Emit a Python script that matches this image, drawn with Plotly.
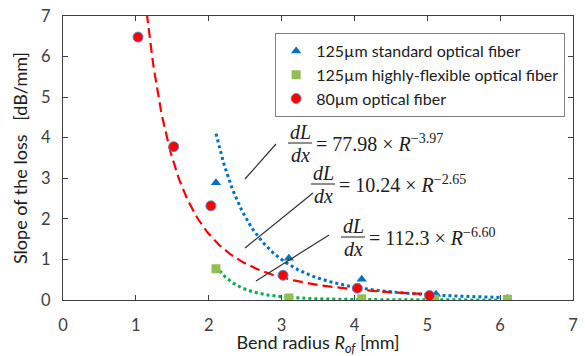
import numpy as np
import plotly.graph_objects as go

# ---- data ----
x_std = [2.1, 3.1, 4.1, 5.12, 6.1]
y_std = [2.89, 1.03, 0.51, 0.14, 0.04]
x_flex = [2.1, 3.1, 4.1, 5.1, 6.1]
y_flex = [0.77, 0.05, 0.03, 0.02, 0.02]
x_80 = [1.03, 1.52, 2.03, 3.02, 4.04, 5.03]
y_80 = [6.48, 3.78, 2.32, 0.61, 0.29, 0.11]

fit_coef = [77.98, 112.3, 10.24]
fit_exp = [-3.97, -6.60, -2.65]
fit_range = [(2.1, 6.0), (2.1, 6.0), (1.15, 5.05)]

names = ["125µm standard optical fiber", "125µm highly-flexible optical fiber", "80µm optical fiber"]
x_ticks = [0, 1, 2, 3, 4, 5, 6, 7]
y_ticks = [0, 1, 2, 3, 4, 5, 6, 7]

# ---- layout geometry (window pixels) ----
W, H = 585, 356
PL, PR, PT, PB = 63, 573, 16, 300   # plot area in window pixels
pw, ph = PR - PL, PB - PT


def px2d(px, py):
    return (px - PL) / pw * 7, (PB - py) / ph * 7


fig = go.Figure()

BLUE = "#0070C0"
GREEN = "#00B050"
RED = "#FF0000"

# fit curves
line_styles = [dict(color=BLUE, width=3, dash="dot"),
               dict(color=GREEN, width=3, dash="dot"),
               dict(color=RED, width=2.2, dash="10px,5px")]
for c, e, (a, b), ls in zip(fit_coef, fit_exp, fit_range, line_styles):
    xs = np.linspace(a, b, 200)
    fig.add_trace(go.Scatter(x=xs, y=c * xs ** e, mode="lines", line=ls,
                             showlegend=False, hoverinfo="skip"))

fig.add_trace(go.Scatter(x=x_std, y=y_std, mode="markers", name=names[0],
                         marker=dict(symbol="triangle-up", size=9, color=BLUE)))
fig.add_trace(go.Scatter(x=x_flex, y=y_flex, mode="markers", name=names[1],
                         marker=dict(symbol="square", size=9, color="#92C050")))
fig.add_trace(go.Scatter(x=x_80, y=y_80, mode="markers", name=names[2],
                         marker=dict(symbol="circle", size=10, color=RED,
                                     line=dict(color="#5B8BD0", width=1))))

# annotation leader lines (window pixel positions)
leaders = [((245, 179), (276, 144)), ((245, 248), (313, 193)), ((256, 281), (329, 235))]
for p0, p1 in leaders:
    x0, y0 = px2d(*p0)
    x1, y1 = px2d(*p1)
    fig.add_shape(type="line", x0=x0, y0=y0, x1=x1, y1=y1, xref="x", yref="y",
                  line=dict(color="#303030", width=1.2))

# equations: fraction center x, bar y, equation text
eq_texts = ["= 77.98 × <i>R</i><sup>−3.97</sup>",
            "= 10.24 × <i>R</i><sup>−2.65</sup>",
            "= 112.3 × <i>R</i><sup>−6.60</sup>"]
eq_pos = [(300, 143), (323, 184), (353, 237)]
EQF = dict(family="Liberation Serif", size=20, color="#202020")
for (cx, by), txt in zip(eq_pos, eq_texts):
    bx, byd = px2d(cx, by)
    nx, ny = px2d(cx, by - 11)
    dx_, dy_ = px2d(cx, by + 12)
    fig.add_annotation(x=nx, y=ny, text="<i>dL</i>", showarrow=False, font=EQF,
                       xanchor="center", yanchor="middle")
    fig.add_annotation(x=dx_, y=dy_, text="<i>dx</i>", showarrow=False, font=EQF,
                       xanchor="center", yanchor="middle")
    xa, _ = px2d(cx - 12, by)
    xb, _ = px2d(cx + 12, by)
    fig.add_shape(type="line", x0=xa, x1=xb, y0=byd, y1=byd, xref="x", yref="y",
                  line=dict(color="#202020", width=1))
    tx, ty = px2d(cx + 14, by)
    fig.add_annotation(x=tx, y=ty, text=txt, showarrow=False, font=EQF,
                       xanchor="left", yanchor="middle")

AX = dict(showline=True, linecolor="#404040", linewidth=1, mirror="allticks",
          ticks="inside", ticklen=5, tickcolor="#404040", showgrid=False,
          zeroline=False, automargin=False, ticklabeloverflow="allow",
          tickfont=dict(family="Lato", size=16.5, color="#404040"))

fig.update_layout(
    width=W, height=H,
    margin=dict(l=PL, r=W - PR, t=PT, b=H - PB, pad=0),
    paper_bgcolor="white", plot_bgcolor="white",
    font=dict(family="Lato", color="#202020"),
    xaxis=dict(range=[0, 7], tickvals=x_ticks, ticklabelstandoff=10,
               title=dict(text="Bend radius <i>R<sub>of</sub></i> [mm]",
                          font=dict(family="Lato", size=18, color="#202020"), standoff=4),
               **AX),
    yaxis=dict(range=[0, 7], tickvals=y_ticks, ticklabelstandoff=8,
               title=dict(text="Slope of the loss\u00a0\u00a0\u00a0[dB/mm]",
                          font=dict(family="Lato", size=18, color="#202020"), standoff=8),
               **AX),
    legend=dict(x=0.416, y=0.94, xanchor="left", yanchor="top",
                bgcolor="white", bordercolor="#7F7F7F", borderwidth=1,
                font=dict(family="Lato", size=16, color="#202020"),
                itemsizing="trace", itemwidth=30),
    showlegend=True,
)

fig.write_html("out.html", config={"displayModeBar": False},
               post_script="document.body.style.margin='0px';")
